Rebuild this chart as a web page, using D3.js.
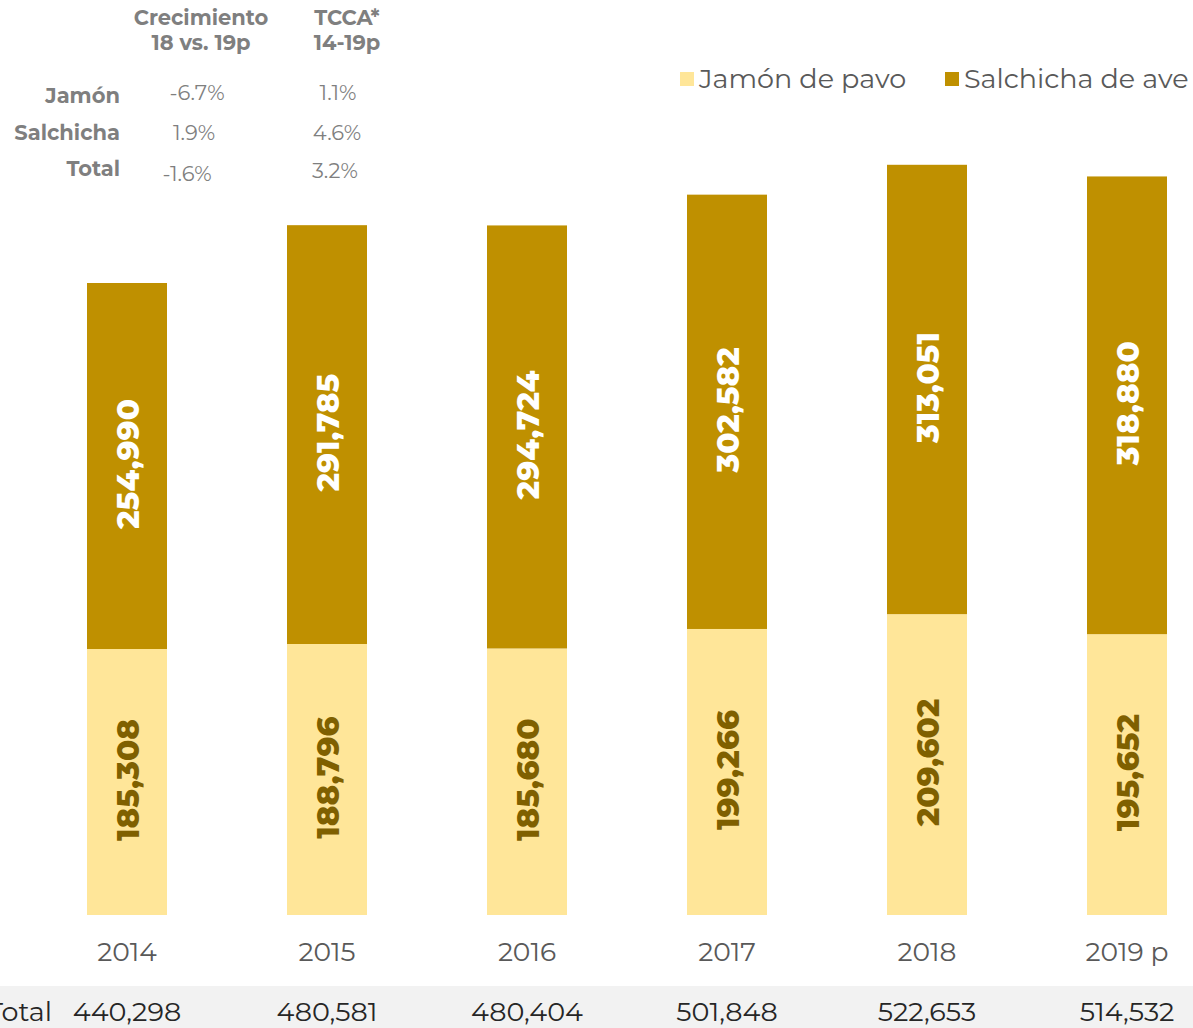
<!DOCTYPE html>
<html><head><meta charset="utf-8">
<script src="https://cdn.jsdelivr.net/npm/d3@7"></script>
<style>
html,body{margin:0;padding:0;background:#fff;}
svg{display:block;font-family:"DejaVu Sans",sans-serif;}
</style></head>
<body>
<svg id="chart" width="1193" height="1028"></svg>
<script>
const years = ["2014","2015","2016","2017","2018","2019 p"];
const jamon = [185308,188796,185680,199266,209602,195652];
const salchicha = [254990,291785,294724,302582,313051,318880];
const totals = ["440,298","480,581","480,404","501,848","522,653","514,532"];
const seriesNames = ["Jamón de pavo","Salchicha de ave"];
const tableHeaders = [["Crecimiento","18 vs. 19p"],["TCCA*","14-19p"]];
const tableRows = ["Jamón","Salchicha","Total"];
const crecimiento = ["-6.7%","1.9%","-1.6%"];
const tcca = ["1.1%","4.6%","3.2%"];

const colJ = "#FFE699", colS = "#BF9000", grey = "#7f7f7f", txt = "#595959";
const svg = d3.select("#chart");
const font = "'Montserrat','DejaVu Sans',sans-serif";

const x = d3.scaleBand().domain(years).range([27,1227]).paddingInner(0.6).paddingOuter(0.3);
const y = d3.scaleLinear().domain([0,600000]).range([915, 915-600000*632/440298]);

const data = years.map((yr,i)=>({year:yr,j:jamon[i],s:salchicha[i]}));
const stack = d3.stack().keys(["j","s"])(data);
const colors = {j:colJ,s:colS};

stack.forEach(layer=>{
  const g = svg.append("g");
  g.selectAll("rect").data(layer).join("rect")
    .attr("x",d=>x(d.data.year)).attr("width",x.bandwidth())
    .attr("y",d=>y(d[1])).attr("height",d=>y(d[0])-y(d[1]))
    .attr("fill",colors[layer.key]);
  g.selectAll("text").data(layer).join("text")
    .attr("transform",d=>`translate(${x(d.data.year)+x.bandwidth()/2+1},${(y(d[0])+y(d[1]))/2-2}) rotate(-90)`)
    .attr("text-anchor","middle").attr("dy","0.36em")
    .attr("font-family",font).attr("font-weight","800").attr("font-size",31)
    .attr("fill",layer.key==="j"?"#7F6000":"#ffffff")
    .text(d=>d3.format(",")(d[1]-d[0]));
});

// x axis labels
const xAxis = d3.axisBottom(x).tickSize(0).tickPadding(0);
const ax = svg.append("g").attr("transform","translate(0,961)").call(xAxis);
ax.select(".domain").remove();
ax.selectAll("text").attr("font-family",font).attr("font-size",26.5).attr("fill",txt).attr("dy","0");

// total row
svg.append("rect").attr("x",0).attr("y",986).attr("width",1193).attr("height",42).attr("fill","#f2f2f2");
svg.append("text").attr("x",52).attr("y",1021).attr("text-anchor","end")
  .attr("font-family",font).attr("font-size",27).attr("fill","#262626").text("Total");
svg.selectAll(".tot").data(totals).join("text").attr("class","tot")
  .attr("x",(d,i)=>x(years[i])+x.bandwidth()/2).attr("y",1021).attr("text-anchor","middle")
  .attr("font-family",font).attr("font-size",27).attr("fill","#262626").text(d=>d);

// legend
const legX = [680,945];
seriesNames.forEach((n,i)=>{
  svg.append("rect").attr("x",legX[i]).attr("y",72).attr("width",14).attr("height",14).attr("fill",[colJ,colS][i]);
  svg.append("text").attr("x",legX[i]+19).attr("y",88).attr("font-family",font).attr("font-size",27).attr("fill",txt).text(n);
});

// top table
const hx = [201,347];
tableHeaders.forEach((h,i)=>{
  h.forEach((line,k)=>{
    svg.append("text").attr("x",hx[i]).attr("y",25+k*25).attr("text-anchor","middle")
      .attr("font-family",font).attr("font-weight","bold").attr("font-size",21).attr("fill",grey).text(line);
  });
});
const rowY = [103,140,176];
tableRows.forEach((r,i)=>{
  svg.append("text").attr("x",120).attr("y",rowY[i]).attr("text-anchor","end")
    .attr("font-family",font).attr("font-weight","bold").attr("font-size",21).attr("fill",grey).text(r);
});
const cY = [100,140,181], tY=[100,140,178];
const cX = [197,194,187], tX=[338,337,335];
crecimiento.forEach((v,i)=>{
  svg.append("text").attr("x",cX[i]).attr("y",cY[i]).attr("text-anchor","middle")
    .attr("font-family",font).attr("font-size",21).attr("fill",grey).text(v);
});
tcca.forEach((v,i)=>{
  svg.append("text").attr("x",tX[i]).attr("y",tY[i]).attr("text-anchor","middle")
    .attr("font-family",font).attr("font-size",21).attr("fill",grey).text(v);
});
</script>
</body></html>
